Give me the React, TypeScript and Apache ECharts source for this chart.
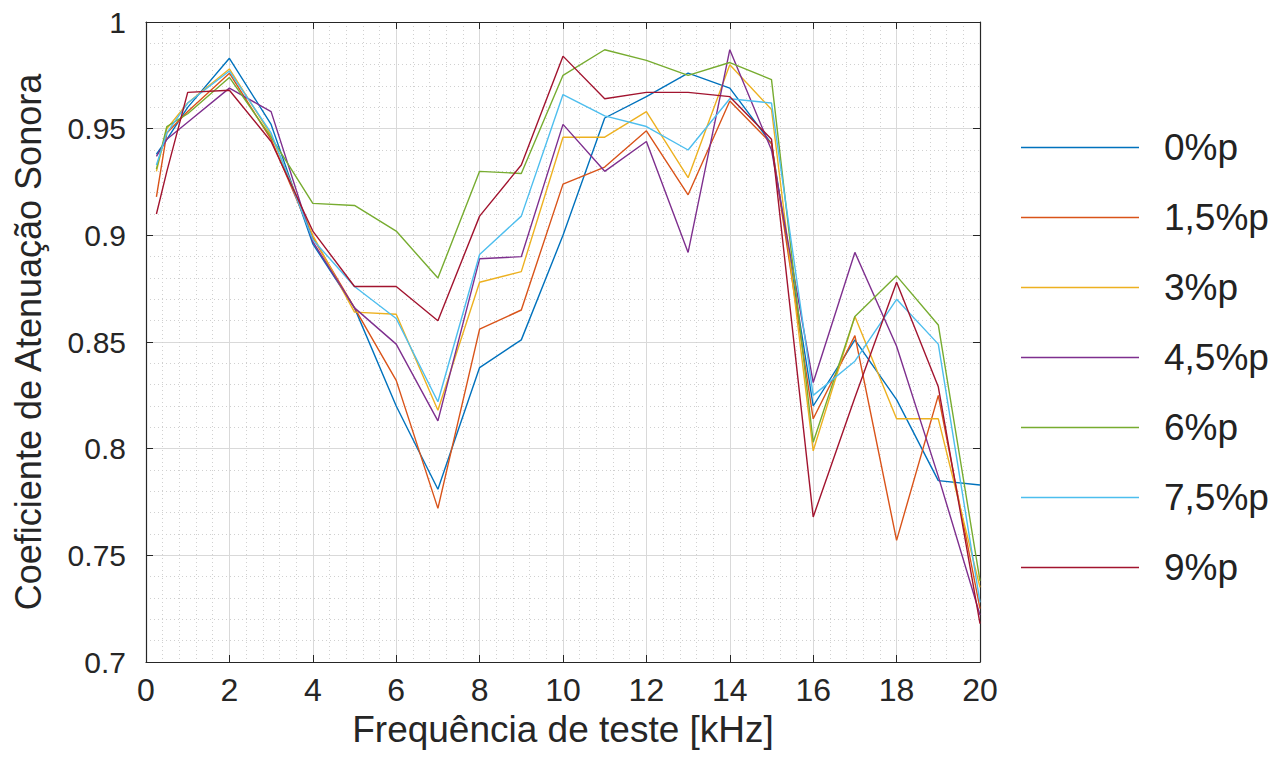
import React, { useEffect, useRef } from "react";
import * as echarts from "echarts";

const freqs = [0.25, 0.5, 1, 2, 3, 4, 5, 6, 7, 8, 9, 10, 11, 12, 13, 14, 15, 16, 17, 18, 19, 20];

const seriesNames = ["0%p", "1,5%p", "3%p", "4,5%p", "6%p", "7,5%p", "9%p"];
const seriesColors = ["#0072BD", "#D95319", "#EDB120", "#7E2F8E", "#77AC30", "#4DBEEE", "#A2142F"];

const s0 = [0.938, 0.945, 0.96, 0.983, 0.952, 0.896, 0.866, 0.82, 0.781, 0.838, 0.851, 0.9, 0.955, 0.965, 0.976, 0.969, 0.943, 0.82, 0.851, 0.823, 0.785, 0.783];
const s15 = [0.918, 0.948, 0.958, 0.976, 0.945, 0.899, 0.866, 0.832, 0.772, 0.856, 0.865, 0.924, 0.932, 0.949, 0.919, 0.963, 0.943, 0.814, 0.853, 0.757, 0.825, 0.725];
const s3 = [0.93, 0.95, 0.962, 0.978, 0.947, 0.9, 0.864, 0.863, 0.818, 0.878, 0.883, 0.946, 0.946, 0.958, 0.927, 0.98, 0.959, 0.799, 0.862, 0.814, 0.814, 0.735];
const s45 = [0.937, 0.945, 0.953, 0.969, 0.958, 0.897, 0.866, 0.849, 0.813, 0.889, 0.89, 0.952, 0.93, 0.944, 0.892, 0.987, 0.94, 0.831, 0.892, 0.848, 0.787, 0.722];
const s6 = [0.931, 0.951, 0.957, 0.974, 0.946, 0.915, 0.914, 0.902, 0.88, 0.93, 0.929, 0.975, 0.987, 0.982, 0.975, 0.981, 0.973, 0.803, 0.862, 0.881, 0.858, 0.738];
const s75 = [0.933, 0.948, 0.962, 0.977, 0.948, 0.898, 0.876, 0.861, 0.822, 0.891, 0.909, 0.966, 0.956, 0.951, 0.94, 0.964, 0.962, 0.825, 0.841, 0.87, 0.849, 0.728];
const s9 = [0.91, 0.93, 0.967, 0.968, 0.944, 0.902, 0.876, 0.876, 0.86, 0.909, 0.933, 0.984, 0.964, 0.967, 0.967, 0.965, 0.945, 0.768, 0.824, 0.878, 0.829, 0.718];

const allValues = [s0, s15, s3, s45, s6, s75, s9];

const xTitle = "Frequência de teste [kHz]";
const yTitle = "Coeficiente de Atenuação Sonora";

const FONT = "'Liberation Sans', Arial, Helvetica, sans-serif";
const AX = "#262626";

export default function App() {
  const ref = useRef<HTMLDivElement>(null);
  useEffect(() => {
    if (!ref.current) return;
    const chart = echarts.init(ref.current, undefined, { renderer: "svg" });
    const series = allValues.map((vals, i) => ({
      name: seriesNames[i],
      type: "line",
      data: freqs.map((f, j) => [f, vals[j]]),
      showSymbol: false,
      symbol: "none",
      lineStyle: { width: 1.4, color: seriesColors[i] },
      itemStyle: { color: seriesColors[i] },
      z: 3,
    }));
    chart.setOption({
      animation: false,
      backgroundColor: "#ffffff",
      textStyle: { fontFamily: FONT },
      grid: { left: 146, right: 301, top: 22, bottom: 107, containLabel: false },
      legend: {
        orient: "vertical",
        left: 1016,
        top: 124,
        icon: "rect",
        itemWidth: 118,
        itemHeight: 1.6,
        itemGap: 33,
        data: seriesNames,
        textStyle: {
          fontFamily: FONT,
          fontSize: 37,
          color: "#222",
          lineHeight: 37,
          padding: [0, 0, 0, 20],
        },
      },
      xAxis: [
        {
          type: "value",
          min: 0,
          max: 20,
          interval: 2,
          name: xTitle,
          nameLocation: "middle",
          nameGap: 37,
          nameTextStyle: { fontFamily: FONT, fontSize: 37, color: "#262626" },
          axisLine: { show: true, onZero: false, lineStyle: { color: AX, width: 1.2 } },
          axisTick: { show: true, inside: true, length: 7, lineStyle: { color: AX } },
          axisLabel: { fontFamily: FONT, fontSize: 32, color: "#262626", margin: 12 },
          splitLine: { show: true, lineStyle: { color: "#d9d9d9", width: 1 } },
          minorTick: { show: false, splitNumber: 5 },
          minorSplitLine: { show: true, lineStyle: { color: "#d0d0d0", width: 1, type: [1, 3] } },
        },
        {
          type: "value",
          position: "top",
          min: 0,
          max: 20,
          interval: 2,
          axisLine: { show: true, onZero: false, lineStyle: { color: AX, width: 1.2 } },
          axisTick: { show: true, inside: true, length: 7, lineStyle: { color: AX } },
          axisLabel: { show: false },
          splitLine: { show: false },
        },
      ],
      yAxis: [
        {
          type: "value",
          min: 0.7,
          max: 1,
          interval: 0.05,
          name: yTitle,
          nameLocation: "middle",
          nameGap: 100,
          nameRotate: 90,
          nameTextStyle: { fontFamily: FONT, fontSize: 36, color: "#262626" },
          axisLine: { show: true, onZero: false, lineStyle: { color: AX, width: 1.2 } },
          axisTick: { show: true, inside: true, length: 7, lineStyle: { color: AX } },
          axisLabel: {
            fontFamily: FONT,
            fontSize: 30,
            color: "#262626",
            margin: 20,
            formatter: (v: number) => String(Math.round(v * 100) / 100),
          },
          splitLine: { show: true, lineStyle: { color: "#d9d9d9", width: 1 } },
          minorTick: { show: false, splitNumber: 5 },
          minorSplitLine: { show: true, lineStyle: { color: "#d0d0d0", width: 1, type: [1, 3] } },
        },
        {
          type: "value",
          position: "right",
          min: 0.7,
          max: 1,
          interval: 0.05,
          axisLine: { show: true, onZero: false, lineStyle: { color: AX, width: 1.2 } },
          axisTick: { show: true, inside: true, length: 7, lineStyle: { color: AX } },
          axisLabel: { show: false },
          splitLine: { show: false },
        },
      ],
      series,
    });
    return () => chart.dispose();
  }, []);
  return (
    <div
      ref={ref}
      style={{ position: "fixed", left: 0, top: 0, width: 1281, height: 769 }}
    />
  );
}
